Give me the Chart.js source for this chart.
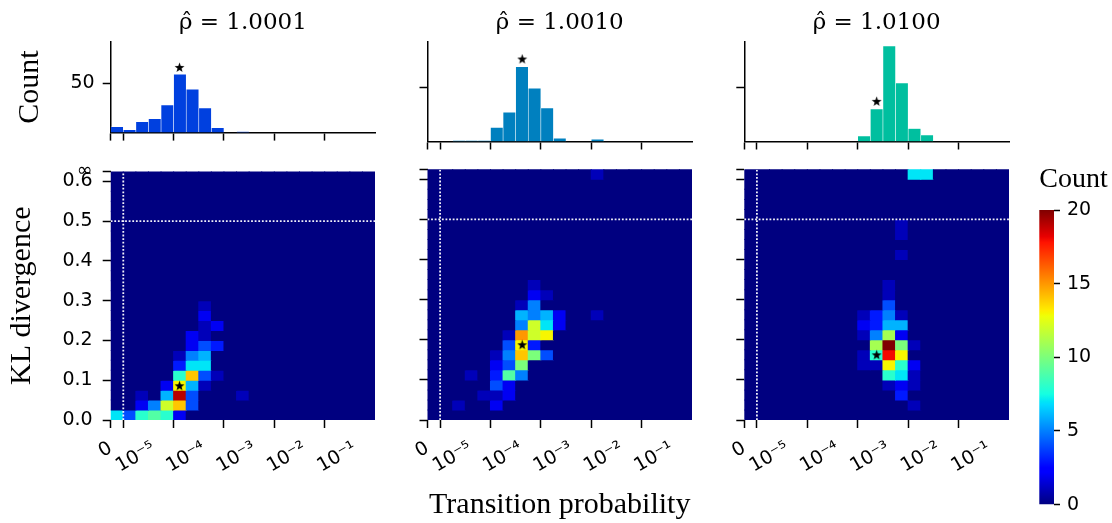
<!DOCTYPE html>
<html>
<head>
<meta charset="utf-8">
<script src="https://cdn.jsdelivr.net/npm/chart.js@4.4.0/dist/chart.umd.min.js"></script>
<style>
  html, body { margin: 0; padding: 0; background: #fff; }
  #fig { position: relative; width: 1112px; height: 523px; overflow: hidden; }
  #fig canvas { position: absolute; }
</style>
</head>
<body>
<div id="fig"></div>
<script>
/* ─── Data ─── */
const RHO = ['1.0001', '1.0010', '1.0100'];

// x axis: column 0 is the "0" bin, then 4 bins per decade from 1e-5 to 1
const N_COLS = 21;
const X_TICK_POS = [0, 1, 5, 9, 13, 17];
const X_TICK_LABELS = ['0', '10⁻⁵', '10⁻⁴', '10⁻³', '10⁻²', '10⁻¹'];

// y axis: KL divergence bins of 0.025, top bin is "∞"
const N_ROWS = 25;
const KL_BIN = 0.025;
const KL_TICKS = [0, 0.1, 0.2, 0.3, 0.4, 0.5, 0.6, 0.625];
const KL_TICK_LABELS = ['0.0', '0.1', '0.2', '0.3', '0.4', '0.5', '0.6', '∞'];

// histogram counts per column
const HIST_1 = [6, 3, 11, 14, 28, 59, 44, 25, 5, 0, 1, 0, 0, 0, 0, 0, 0, 0, 0, 0, 0];
const HIST_2 = [0, 0, 1, 1, 1, 13, 27, 69, 49, 31, 3, 0, 0, 2, 0, 0, 0, 0, 0, 0, 0];
const HIST_3 = [0, 0, 0, 0, 0, 0, 0, 0, 0, 5, 30, 88, 54, 12, 6, 0, 0, 0, 0, 0, 0];
const HIST_TICKS = [50];

// heatmap non-zero cells: [row (KL bin), column, count]
const HEAT_1 = [
  [0, 0, 7], [0, 1, 4], [0, 2, 8], [0, 3, 9], [0, 4, 8], [0, 5, 2],
  [1, 2, 2], [1, 3, 5], [1, 4, 12], [1, 5, 14], [1, 6, 4],
  [2, 2, 1], [2, 4, 6], [2, 5, 19], [2, 6, 4], [2, 10, 1],
  [3, 4, 2], [3, 5, 13], [3, 6, 6], [3, 7, 1],
  [4, 5, 8], [4, 6, 14], [4, 7, 4], [4, 8, 1],
  [5, 5, 3], [5, 6, 7], [5, 7, 7],
  [6, 5, 1], [6, 6, 5], [6, 7, 6],
  [7, 6, 2], [7, 7, 4], [7, 8, 3],
  [8, 6, 2], [8, 7, 1],
  [9, 7, 1], [9, 8, 2],
  [10, 7, 2],
  [11, 7, 1],
];
const HEAT_2 = [
  [1, 2, 1], [1, 5, 2],
  [2, 4, 1], [2, 5, 1], [2, 6, 2],
  [3, 5, 4], [3, 6, 2],
  [4, 3, 1], [4, 5, 3], [4, 6, 9], [4, 7, 5],
  [5, 5, 2], [5, 6, 4], [5, 7, 10],
  [6, 5, 1], [6, 6, 5], [6, 7, 14], [6, 8, 10], [6, 9, 4],
  [7, 6, 4], [7, 7, 13], [7, 8, 3],
  [8, 6, 1], [8, 7, 15], [8, 8, 12], [8, 9, 13],
  [9, 7, 5], [9, 8, 12], [9, 9, 7], [9, 10, 2],
  [10, 7, 6], [10, 8, 5], [10, 9, 6], [10, 10, 2], [10, 13, 1],
  [11, 7, 1], [11, 8, 5],
  [12, 8, 2], [12, 9, 1],
  [13, 8, 1],
  [24, 13, 1],
];
const HEAT_3 = [
  [1, 13, 1],
  [2, 12, 3],
  [3, 11, 1], [3, 12, 2], [3, 13, 1],
  [4, 11, 8], [4, 12, 7], [4, 13, 1],
  [5, 9, 1], [5, 10, 1], [5, 11, 13], [5, 12, 8], [5, 13, 2],
  [6, 9, 1], [6, 10, 8], [6, 11, 18], [6, 12, 13],
  [7, 10, 11], [7, 11, 20], [7, 12, 10], [7, 13, 1],
  [8, 9, 1], [8, 10, 5], [8, 11, 11], [8, 12, 2],
  [9, 9, 2], [9, 10, 3], [9, 11, 6], [9, 12, 6],
  [10, 9, 1], [10, 10, 3], [10, 11, 5], [10, 12, 1],
  [11, 11, 4],
  [12, 11, 1],
  [13, 11, 1],
  [16, 12, 1],
  [18, 12, 1],
  [19, 12, 1],
  [24, 13, 7], [24, 14, 7],
];

// star markers (median position)
const STAR_COL = [5.47, 7.52, 10.5];
const STAR_KL = [0.086, 0.1875, 0.1625];
const STAR_COUNT = [66, 76, 37];

// dotted guide lines
const V_LINE_COL = 1;
const H_LINE_KL = 0.5;

// colorbar
const CB_TICKS = [0, 5, 10, 15, 20];

const HISTS = [HIST_1, HIST_2, HIST_3];
const HEATS = [HEAT_1, HEAT_2, HEAT_3];

/* ─── Style ─── */
const HIST_COLORS = ['rgb(0, 64, 223)', 'rgb(0, 128, 191)', 'rgb(0, 191, 159)'];
const FONT_TICK = { family: 'DejaVu Sans', size: 19 };
const FONT_LABEL = { family: 'Liberation Serif', size: 30, weight: 'normal' };
const FONT_TITLE = { family: 'DejaVu Serif', size: 23, weight: 'normal' };
const FONT_CB = { family: 'Liberation Serif', size: 28, weight: 'normal' };
const LINE_COLOR = 'rgba(255, 255, 255, 0.95)';

const AREA_LEFT = [110.7, 427.5, 744.3];
const AREA_W = 264;
const KL_MAX = N_ROWS * KL_BIN;
const CB_MAX = CB_TICKS[CB_TICKS.length - 1];
const LABEL_SHIFT = 2.43;   // rotated tick labels sit right of their tick

/* ─── Jet colormap ─── */
const JET = {
  r: [[0, 0], [0.35, 0], [0.66, 1], [0.89, 1], [1, 0.5]],
  g: [[0, 0], [0.125, 0], [0.375, 1], [0.64, 1], [0.91, 0], [1, 0]],
  b: [[0, 0.5], [0.11, 1], [0.34, 1], [0.65, 0], [1, 0]],
};
const JET_STOPS = [0, 0.11, 0.125, 0.34, 0.35, 0.375, 0.64, 0.65, 0.66, 0.89, 0.91, 1];

function seg(s, t) {
  for (let i = 1; i < s.length; i++) {
    if (t <= s[i][0]) {
      const [t0, v0] = s[i - 1], [t1, v1] = s[i];
      return v0 + (v1 - v0) * (t - t0) / (t1 - t0);
    }
  }
  return s[s.length - 1][1];
}
function jet(t) {
  t = Math.min(1, Math.max(0, t));
  const c = k => Math.round(255 * seg(JET[k], t));
  return `rgb(${c('r')}, ${c('g')}, ${c('b')})`;
}

/* ─── Helpers ─── */
const fig = document.getElementById('fig');
function addCanvas(left, top, w, h) {
  const c = document.createElement('canvas');
  c.width = w;
  c.height = h;
  c.style.left = left + 'px';
  c.style.top = top + 'px';
  fig.appendChild(c);
  return c;
}

const STAR = (() => {
  const c = document.createElement('canvas');
  c.width = c.height = 11;
  const g = c.getContext('2d');
  g.beginPath();
  for (let k = 0; k < 10; k++) {
    const r = k % 2 ? 2.1 : 5.2;
    const a = -Math.PI / 2 + k * Math.PI / 5;
    const px = 5.5 + r * Math.cos(a), py = 5.8 + r * Math.sin(a);
    if (k) g.lineTo(px, py); else g.moveTo(px, py);
  }
  g.closePath();
  g.fillStyle = '#000';
  g.fill();
  return c;
})();

const TICK_GRID = { display: true, drawOnChartArea: false, drawTicks: true, tickLength: 8, tickWidth: 1.5, tickColor: '#000' };
const NO_TICK_GRID = { display: false, drawTicks: false };

function heatCells(cells) {
  const grid = [];
  for (let r = 0; r < N_ROWS; r++) grid.push(new Array(N_COLS).fill(0));
  cells.forEach(([r, c, v]) => { grid[r][c] = v; });
  const out = [];
  grid.forEach((row, r) => row.forEach((v, c) => {
    out.push({ x: c + 0.5, y: [r * KL_BIN, (r + 1) * KL_BIN], v });
  }));
  return out;
}

function xTickAxis(height, border) {
  return {
    type: 'linear', position: 'bottom', min: 0, max: N_COLS, offset: false, weight: 0,
    afterBuildTicks: s => { s.ticks = X_TICK_POS.map(v => ({ value: v })); },
    afterFit: s => { s.height = height; },
    grid: { ...TICK_GRID, offset: false },
    border: border ? { display: true, color: '#000', width: 1.5 } : { display: false },
    ticks: { display: false, autoSkip: false },
  };
}

/* ─── Histograms ─── */
function makeHist(i) {
  const left = i === 0 ? 0 : Math.floor(AREA_LEFT[i]) - 40;
  const yW = AREA_LEFT[i] - left;
  const canvas = addCanvas(left, 0, Math.ceil(yW + AREA_W + 10), 152);
  new Chart(canvas, {
    type: 'bar',
    data: {
      datasets: [
        {
          type: 'scatter',
          data: [{ x: STAR_COL[i], y: STAR_COUNT[i] }],
          pointStyle: STAR,
          order: 0,
        },
        {
          data: HISTS[i].map((v, c) => ({ x: c + 0.5, y: v })),
          backgroundColor: HIST_COLORS[i],
          borderColor: 'rgba(255, 255, 255, 0.35)',
          borderWidth: 0.6,
          barPercentage: 1,
          categoryPercentage: 1,
          order: 1,
        },
      ],
    },
    options: {
      responsive: false,
      animation: false,
      events: [],
      layout: { padding: { left: 0, right: 10, top: 0, bottom: 0 } },
      plugins: {
        legend: { display: false },
        tooltip: { enabled: false },
        title: {
          display: true,
          text: 'ρ̂ = ' + RHO[i],
          font: FONT_TITLE,
          color: '#000',
          fullSize: false,
          padding: { top: 9, bottom: 5.1 },
        },
      },
      scales: {
        x: xTickAxis(10.5, true),
        y: {
          type: 'linear', position: 'left', min: 0, max: 92,
          afterBuildTicks: s => { s.ticks = HIST_TICKS.map(v => ({ value: v })); },
          afterFit: s => { s.width = yW; },
          grid: TICK_GRID,
          border: { display: true, color: '#000', width: 1.5 },
          ticks: { display: i === 0, font: FONT_TICK, color: '#000', padding: 8 },
          title: {
            display: i === 0, text: 'Count', font: FONT_LABEL, color: '#000',
            padding: { top: 12, bottom: 0 },
          },
        },
      },
    },
  });
}

/* ─── Heatmaps ─── */
function makeHeat(i) {
  const left = i === 0 ? 0 : Math.floor(AREA_LEFT[i]) - 40;
  const yW = AREA_LEFT[i] - left;
  const canvas = addCanvas(left, 150, Math.ceil(yW + AREA_W + 10), 373);
  const guide = { type: 'line', borderColor: LINE_COLOR, borderWidth: 1.8, borderDash: [1.8, 1.8], pointRadius: 0, order: 1 };
  new Chart(canvas, {
    type: 'bar',
    data: {
      datasets: [
        {
          type: 'scatter',
          data: [{ x: STAR_COL[i], y: STAR_KL[i] }],
          pointStyle: STAR,
          order: 0,
        },
        { ...guide, data: [{ x: V_LINE_COL, y: 0 }, { x: V_LINE_COL, y: KL_MAX }] },
        { ...guide, data: [{ x: 0, y: H_LINE_KL }, { x: N_COLS, y: H_LINE_KL }] },
        {
          type: 'bar',
          data: heatCells(HEATS[i]),
          backgroundColor: ctx => jet((ctx.raw ? ctx.raw.v : 0) / CB_MAX),
          borderWidth: 0,
          inflateAmount: 0.5,
          barPercentage: 1,
          categoryPercentage: 1,
          order: 2,
        },
      ],
    },
    options: {
      responsive: false,
      animation: false,
      events: [],
      layout: { padding: { left: 0, right: 10, top: 19.3, bottom: 0 } },
      plugins: { legend: { display: false }, tooltip: { enabled: false } },
      scales: {
        x: xTickAxis(8, false),
        xl: {
          type: 'linear', position: 'bottom', min: 0, max: N_COLS, offset: false, weight: 1,
          afterBuildTicks: s => {
            s.ticks = X_TICK_POS.map(v => ({ value: v === 0 ? v : v + LABEL_SHIFT }));
          },
          afterFit: s => { s.height = 95; },
          grid: NO_TICK_GRID,
          border: { display: false },
          ticks: {
            autoSkip: false, minRotation: 30, maxRotation: 30, padding: 9,
            font: FONT_TICK, color: '#000',
            callback: (v, idx) => X_TICK_LABELS[idx],
          },
          title: {
            display: i === 1, text: 'Transition probability', font: FONT_LABEL, color: '#000',
            padding: { top: 0, bottom: 0 },
          },
        },
        y: {
          type: 'linear', position: 'left', min: 0, max: KL_MAX,
          afterBuildTicks: s => { s.ticks = KL_TICKS.map(v => ({ value: v })); },
          afterFit: s => { s.width = yW; },
          grid: TICK_GRID,
          border: { display: false },
          ticks: {
            display: i === 0, font: FONT_TICK, color: '#000', padding: 10, autoSkip: false,
            callback: (v, idx) => KL_TICK_LABELS[idx],
          },
          title: {
            display: i === 0, text: 'KL divergence', font: FONT_LABEL, color: '#000',
            padding: { top: 4, bottom: 0 },
          },
        },
      },
    },
  });
}

/* ─── Colorbar ─── */
function makeColorbar() {
  const canvas = addCanvas(1039, 160, 75, 363);
  new Chart(canvas, {
    type: 'bar',
    data: {
      labels: ['Count'],
      datasets: [{
        data: [[CB_TICKS[0], CB_MAX]],
        backgroundColor: ctx => {
          const chart = ctx.chart;
          if (!chart.chartArea) return jet(0.5);
          const y = chart.scales.y;
          const g = chart.ctx.createLinearGradient(0, y.getPixelForValue(CB_TICKS[0]), 0, y.getPixelForValue(CB_MAX));
          JET_STOPS.forEach(t => g.addColorStop(t, jet(t)));
          return g;
        },
        borderWidth: 0,
        barPercentage: 1,
        categoryPercentage: 1,
      }],
    },
    options: {
      responsive: false,
      animation: false,
      events: [],
      layout: { padding: { left: 0.3, right: 0, top: 0, bottom: 16.3 } },
      plugins: {
        legend: { display: false },
        tooltip: { enabled: false },
        title: {
          display: true, text: 'Count', font: FONT_CB, color: '#000',
          align: 'start', fullSize: true, padding: { top: 3, bottom: 13.4 },
        },
      },
      scales: {
        x: { display: false },
        y: {
          position: 'right', min: 0, max: CB_MAX,
          afterBuildTicks: s => { s.ticks = CB_TICKS.map(v => ({ value: v })); },
          afterFit: s => { s.width = 60; },
          grid: { display: true, drawOnChartArea: false, tickLength: 6, tickWidth: 1.5, tickColor: '#000' },
          border: { display: false },
          ticks: { font: FONT_TICK, color: '#000', padding: 7 },
        },
      },
    },
  });
}

[0, 1, 2].forEach(makeHist);
[0, 1, 2].forEach(makeHeat);
makeColorbar();
</script>
</body>
</html>
